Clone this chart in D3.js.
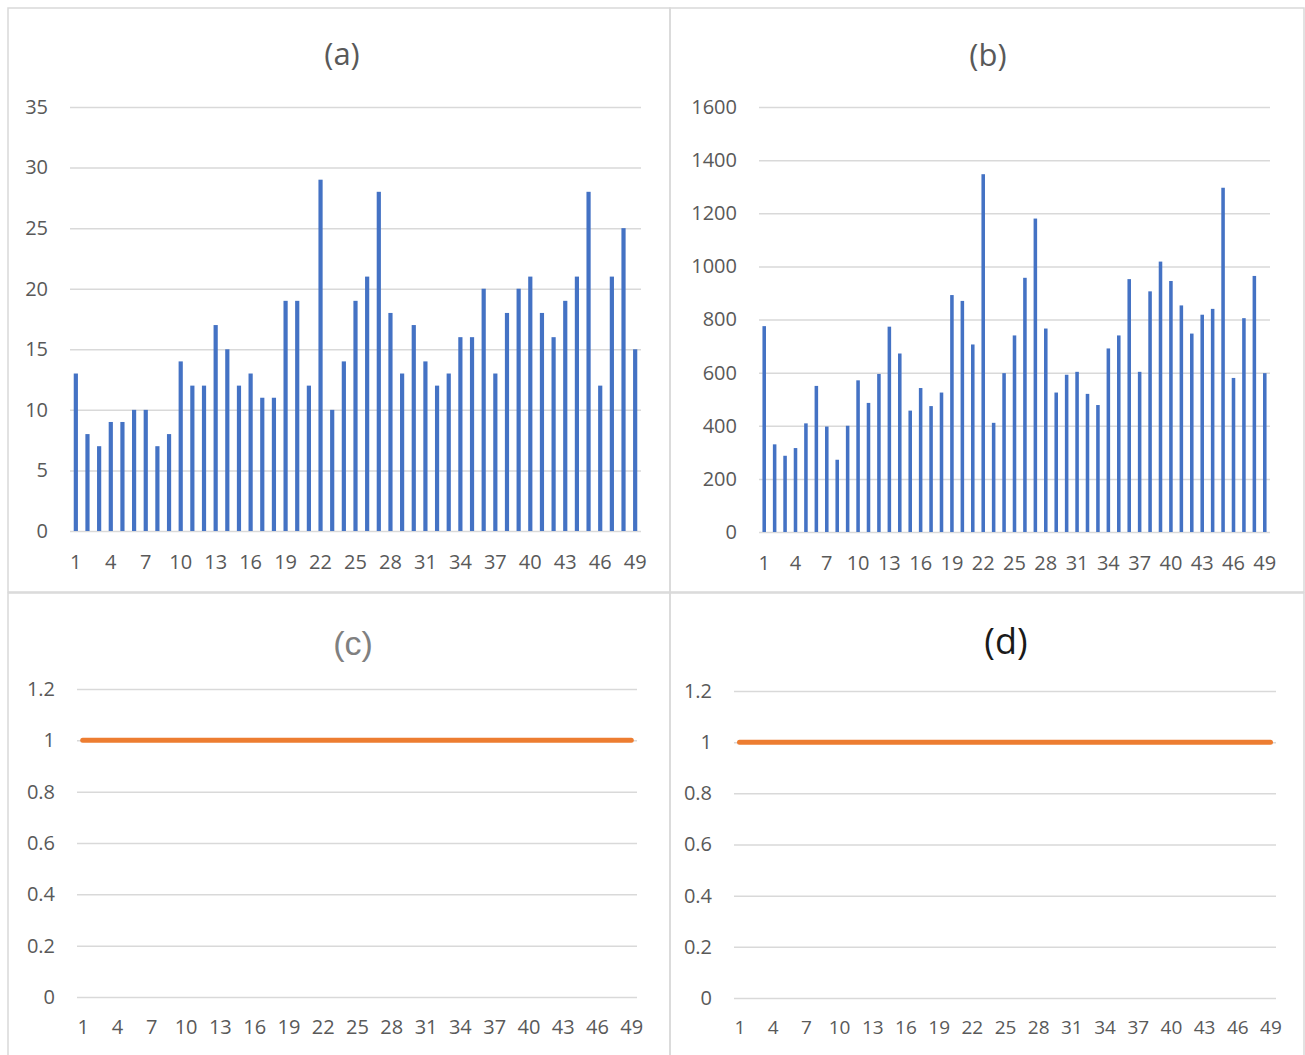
<!DOCTYPE html>
<html>
<head>
<meta charset="utf-8">
<script src="https://cdn.jsdelivr.net/npm/d3@7"></script>
<style>
  body { margin: 0; background: #fff; }
  svg { display: block; }
</style>
</head>
<body>
<div id="chart-container"></div>
<script>
// Category labels (x axis)
const categories = [
  "1", "2", "3", "4", "5", "6", "7", "8", "9", "10",
  "11", "12", "13", "14", "15", "16", "17", "18", "19", "20",
  "21", "22", "23", "24", "25", "26", "27", "28", "29", "30",
  "31", "32", "33", "34", "35", "36", "37", "38", "39", "40",
  "41", "42", "43", "44", "45", "46", "47", "48", "49"
];
const xTickLabels = ["1", "4", "7", "10", "13", "16", "19", "22", "25", "28", "31", "34", "37", "40", "43", "46", "49"];

// Series values
const valuesA = [
  13, 8, 7, 9, 9, 10, 10, 7, 8, 14,
  12, 12, 17, 15, 12, 13, 11, 11, 19, 19,
  12, 29, 10, 14, 19, 21, 28, 18, 13, 17,
  14, 12, 13, 16, 16, 20, 13, 18, 20, 21,
  18, 16, 19, 21, 28, 12, 21, 25, 15
];
const valuesB = [
  775, 330, 287, 316, 409, 550, 397, 272, 400, 571,
  486, 595, 773, 672, 457, 542, 474, 525, 892, 870,
  706, 1347, 411, 598, 740, 957, 1180, 766, 525, 592,
  603, 520, 478, 691, 740, 952, 603, 906, 1018, 945,
  853, 747, 818, 840, 1296, 580, 805, 964, 598
];
const valuesC = [
  1, 1, 1, 1, 1, 1, 1, 1, 1, 1,
  1, 1, 1, 1, 1, 1, 1, 1, 1, 1,
  1, 1, 1, 1, 1, 1, 1, 1, 1, 1,
  1, 1, 1, 1, 1, 1, 1, 1, 1, 1,
  1, 1, 1, 1, 1, 1, 1, 1, 1
];
const valuesD = [
  1, 1, 1, 1, 1, 1, 1, 1, 1, 1,
  1, 1, 1, 1, 1, 1, 1, 1, 1, 1,
  1, 1, 1, 1, 1, 1, 1, 1, 1, 1,
  1, 1, 1, 1, 1, 1, 1, 1, 1, 1,
  1, 1, 1, 1, 1, 1, 1, 1, 1
];

// Y tick values
const yTicksA = [0, 5, 10, 15, 20, 25, 30, 35];
const yTicksB = [0, 200, 400, 600, 800, 1000, 1200, 1400, 1600];
const yTicksLine = [0, 0.2, 0.4, 0.6, 0.8, 1, 1.2];

const W = 1305;
const H = 1055;
const gridColor = "#d9d9d9";
const textColor = "#595959";
const font = "'Open Sans', 'Noto Sans', sans-serif";

const svg = d3
  .select("#chart-container")
  .append("svg")
  .attr("width", W)
  .attr("height", H);

// panel frames
const frames = [
  { x: 8, y: 8, w: 662, h: 584 },
  { x: 670, y: 8, w: 634, h: 584 },
  { x: 8, y: 593, w: 662, h: 470 },
  { x: 670, y: 593, w: 634, h: 470 },
];
svg
  .selectAll("rect.frame")
  .data(frames)
  .enter()
  .append("rect")
  .attr("class", "frame")
  .attr("x", (d) => d.x)
  .attr("y", (d) => d.y)
  .attr("width", (d) => d.w)
  .attr("height", (d) => d.h)
  .attr("fill", "none")
  .attr("stroke", gridColor)
  .attr("stroke-width", 1.5);

function drawPanel(opt) {
  const g = svg.append("g").attr("transform", `translate(${opt.left},${opt.top})`);
  const width = opt.right - opt.left;
  const height = opt.bottom - opt.top;

  const y = d3.scaleLinear().domain(opt.yDomain).range([height, 0]);

  // gridlines + y labels
  const yAxis = g
    .append("g")
    .call(
      d3.axisLeft(y)
        .tickValues(opt.yTicks)
        .tickSize(-width)
        .tickPadding(22)
        .tickFormat(opt.yFormat || d3.format("d"))
    );
  yAxis.select(".domain").remove();
  yAxis.selectAll("line").attr("stroke", gridColor).attr("stroke-width", 1.5);
  yAxis
    .selectAll("text")
    .attr("fill", textColor)
    .style("font-family", font)
    .style("font-size", "20px");

  let x;
  if (opt.type === "bar") {
    x = d3.scaleBand().domain(categories).range([0, width]).paddingInner(opt.pad).paddingOuter(opt.pad / 2);
    g.append("g")
      .selectAll("rect")
      .data(opt.values)
      .enter()
      .append("rect")
      .attr("x", (d, i) => x(categories[i]))
      .attr("y", (d) => y(d))
      .attr("width", x.bandwidth())
      .attr("height", (d) => height - y(d))
      .attr("fill", "#4472c4");
  } else {
    x = d3.scalePoint().domain(categories).range([0, width]).padding(0.5);
    const line = d3
      .line()
      .x((d, i) => x(categories[i]))
      .y((d) => y(d));
    g.append("path")
      .datum(opt.values)
      .attr("fill", "none")
      .attr("stroke", "#ed7d31")
      .attr("stroke-width", 5)
      .attr("stroke-linecap", "round")
      .attr("stroke-linejoin", "round")
      .attr("d", line);
  }

  // x labels
  const xAxis = g
    .append("g")
    .attr("transform", `translate(0, ${height})`)
    .call(d3.axisBottom(x).tickValues(xTickLabels).tickSize(0).tickPadding(opt.xPad));
  xAxis.select(".domain").remove();
  xAxis
    .selectAll("text")
    .attr("fill", textColor)
    .style("font-family", font)
    .style("font-size", opt.xFont || "20px");

  // title
  svg
    .append("text")
    .attr("x", opt.titleX)
    .attr("y", opt.titleY)
    .attr("text-anchor", "middle")
    .attr("fill", opt.titleColor)
    .style("font-family", opt.titleFont || font)
    .style("font-size", opt.titleSize)
    .text(opt.title);
}

drawPanel({
  type: "bar", values: valuesA, yDomain: [0, 35], yTicks: yTicksA, pad: 0.64,
  left: 70, right: 641, top: 107, bottom: 531, xPad: 24,
  title: "(a)", titleX: 342, titleY: 65, titleColor: textColor, titleSize: "31px",
});
drawPanel({
  type: "bar", values: valuesB, yDomain: [0, 1600], yTicks: yTicksB, pad: 0.66,
  left: 759, right: 1270, top: 107, bottom: 532, xPad: 24,
  title: "(b)", titleX: 988, titleY: 66, titleColor: textColor, titleSize: "31px",
});
drawPanel({
  type: "line", values: valuesC, yDomain: [0, 1.2], yTicks: yTicksLine, yFormat: d3.format("~g"),
  left: 77, right: 637, top: 689, bottom: 997, xPad: 23,
  title: "(c)", titleX: 353, titleY: 655, titleColor: "#808080", titleSize: "34px",
  titleFont: "'Liberation Sans Narrow', 'Liberation Sans', Arial, sans-serif",
});
drawPanel({
  type: "line", values: valuesD, yDomain: [0, 1.2], yTicks: yTicksLine, yFormat: d3.format("~g"),
  left: 734, right: 1276, top: 691, bottom: 998, xPad: 23, xFont: "19px",
  title: "(d)", titleX: 1006, titleY: 654, titleColor: "#1a1a1a", titleSize: "36px",
});
</script>
</body>
</html>
